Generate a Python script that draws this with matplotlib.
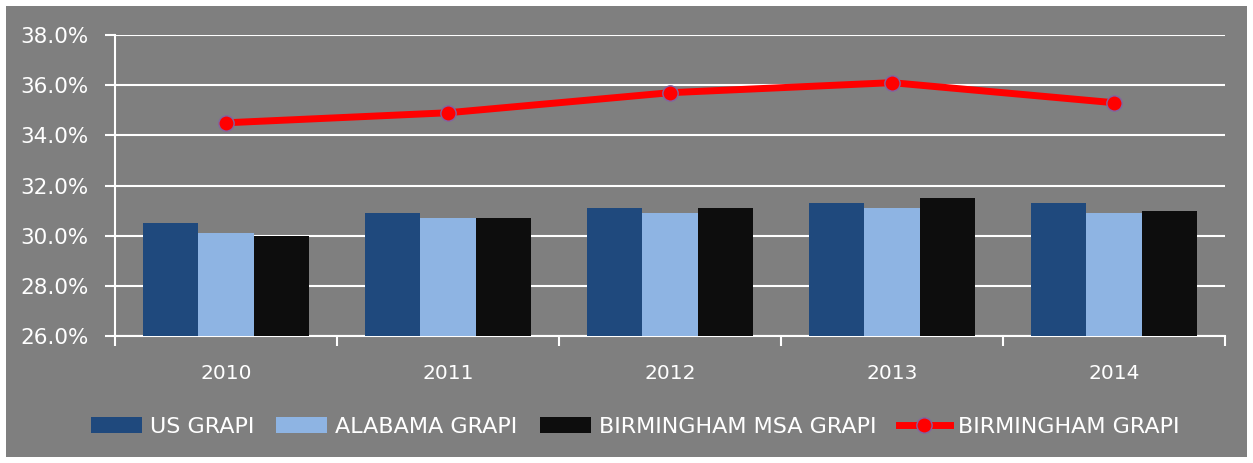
import matplotlib.pyplot as plt
import numpy as np
from matplotlib.patches import Rectangle

# data (percent)
years = ["2010", "2011", "2012", "2013", "2014"]
us_grapi = [30.5, 30.9, 31.1, 31.3, 31.3]
alabama_grapi = [30.1, 30.7, 30.9, 31.1, 30.9]
msa_grapi = [30.0, 30.7, 31.1, 31.5, 31.0]
bham_grapi = [34.5, 34.9, 35.7, 36.1, 35.3]
yticks = [26, 28, 30, 32, 34, 36, 38]

bg = "#7f7f7f"
fig = plt.figure(figsize=(12.53, 4.63), dpi=100)
fig.patch.set_facecolor("white")
fig.patches.append(Rectangle((6 / 1253, 6 / 463), 1241 / 1253, 451 / 463,
                             transform=fig.transFigure, facecolor=bg,
                             edgecolor="none", zorder=-10))

ax = fig.add_axes([115 / 1253, 1 - 336 / 463, 1110 / 1253, 301 / 463])
ax.set_facecolor(bg)
ax.set_zorder(1)

x = np.arange(len(years))
w = 0.25
b1 = ax.bar(x - w, us_grapi, w, color="#1f497d", label="US GRAPI", zorder=3)
b2 = ax.bar(x, alabama_grapi, w, color="#8eb4e3", label="ALABAMA GRAPI", zorder=3)
b3 = ax.bar(x + w, msa_grapi, w, color="#0d0d0d", label="BIRMINGHAM MSA GRAPI", zorder=3)
ln, = ax.plot(x, bham_grapi, color="#ff0000", lw=5, marker="o", ms=11,
              markerfacecolor="#ff0000", markeredgecolor="#8064a2", markeredgewidth=1,
              label="BIRMINGHAM GRAPI", zorder=4)

ax.set_xlim(-0.5, len(years) - 0.5)
ax.set_ylim(26, 38)
ax.set_yticks(yticks)
ax.set_yticklabels([f"{v:.1f}%" for v in yticks])
ax.yaxis.grid(True, color="white", lw=1.5, zorder=1)
ax.set_axisbelow(True)

# category labels in the middle, tick marks on the boundaries
ax.set_xticks(x)
ax.set_xticklabels(years)
ax.set_xticks(np.arange(-0.5, len(years)), minor=True)
ax.tick_params(axis="x", which="major", length=0, pad=20, colors="white", labelsize=14.5)
ax.tick_params(axis="x", which="minor", length=7, width=1.5, color="white", direction="out")
ax.tick_params(axis="y", length=7, width=1.5, color="white", labelcolor="white",
               labelsize=15.5, pad=12)

for s in ["top", "right"]:
    ax.spines[s].set_visible(False)
for s in ["left", "bottom"]:
    ax.spines[s].set_color("white")
    ax.spines[s].set_linewidth(1.5)

leg = fig.legend(handles=[b1, b2, b3, ln], loc="center",
                 bbox_to_anchor=(635 / 1253, 1 - 427 / 463), ncol=4,
                 frameon=False, handlelength=2.3, handletextpad=0.36,
                 columnspacing=1.0, fontsize=16)
for t in leg.get_texts():
    t.set_color("white")

fig.savefig("out.png", dpi=100, facecolor=fig.get_facecolor())
